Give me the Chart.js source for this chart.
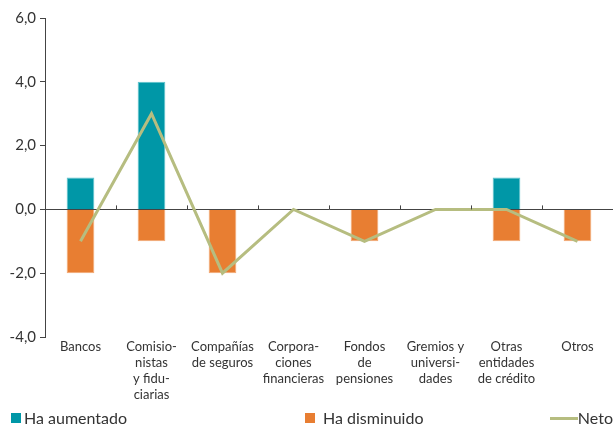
<!DOCTYPE html>
<html>
<head>
<meta charset="utf-8">
<script src="https://cdn.jsdelivr.net/npm/chart.js@4/dist/chart.umd.min.js"></script>
<style>
  html, body { margin: 0; padding: 0; background: #fff; }
  #wrap { position: relative; width: 613px; height: 426px; overflow: hidden; font-family: Lato, "Noto Sans", sans-serif; color: #333; }
  #wrap canvas { position: absolute; left: 0; top: 0; }
  .lg { position: absolute; top: 407px; font-size: 16px; line-height: 22px; white-space: nowrap; }
  .sq { position: absolute; top: 413px; width: 10px; height: 10px; }
  #neto { position: absolute; right: 0; top: 407px; font-size: 16px; line-height: 22px; white-space: nowrap; display: flex; align-items: center; }
  #neto span.ln { display: inline-block; width: 28px; height: 3px; background: #b6bd80; }
</style>
</head>
<body>
<div id="wrap">
  <canvas id="grafico" width="613" height="426"></canvas>
  <div class="sq" style="left:11px;background:#0097a7"></div>
  <div class="lg" style="left:24px">Ha aumentado</div>
  <div class="sq" style="left:305px;background:#e87e32"></div>
  <div class="lg" style="left:323px">Ha disminuido</div>
  <div id="neto"><span class="ln"></span><span>Neto</span></div>
</div>
<script>
// Categorías (etiquetas en varias líneas como en el original)
const categorias = [
    ['Bancos'],
    ['Comisio-', 'nistas', 'y fidu-', 'ciarias'],
    ['Compañías', 'de seguros'],
    ['Corpora-', 'ciones', 'financieras'],
    ['Fondos', 'de', 'pensiones'],
    ['Gremios y', 'universi-', 'dades'],
    ['Otras', 'entidades', 'de crédito'],
    ['Otros']
];
const haAumentado = [1, 4, 0, 0, 0, 0, 1, 0];
const haDisminuido = [-2, -1, -2, 0, -1, 0, -1, -1];
const neto = [-1, 3, -2, 0, -1, 0, 0, -1];
const ticksY = [-4, -2, 0, 2, 4, 6];

// marcas pequeñas sobre la línea del cero, entre categorías
const marcasCero = {
    id: 'marcasCero',
    afterDatasetsDraw(chart) {
        const x = chart.scales.x, y = chart.scales.y;
        const ctx = chart.ctx;
        const y0 = y.getPixelForValue(0);
        ctx.save();
        ctx.strokeStyle = '#444';
        ctx.lineWidth = 1;
        for (let i = 1; i < categorias.length; i++) {
            const px = Math.round((x.getPixelForValue(i - 1) + x.getPixelForValue(i)) / 2) + 0.5;
            ctx.beginPath();
            ctx.moveTo(px, y0 - 4);
            ctx.lineTo(px, y0);
            ctx.stroke();
        }
        ctx.restore();
    }
};

const ctx = document.getElementById('grafico').getContext('2d');
const grafico = new Chart(ctx, {
    type: 'bar',
    data: {
        labels: categorias,
        datasets: [
            {
                type: 'line',
                label: 'Neto',
                data: neto,
                borderColor: '#b6bd80',
                backgroundColor: '#b6bd80',
                borderWidth: 3,
                pointRadius: 0,
                tension: 0,
                stack: 'neto',
                order: 0
            },
            {
                label: 'Ha aumentado',
                data: haAumentado,
                backgroundColor: '#0097a7',
                borderColor: '#5cc3cd',
                borderWidth: 1,
                order: 1
            },
            {
                label: 'Ha disminuido',
                data: haDisminuido,
                backgroundColor: '#e87e32',
                borderColor: '#f2a873',
                borderWidth: 1,
                order: 1
            }
        ]
    },
    options: {
        responsive: false,
        animation: false,
        layout: { padding: { top: 18, right: 0, bottom: 12, left: 0 } },
        datasets: { bar: { categoryPercentage: 1, barPercentage: 0.39 } },
        plugins: {
            legend: { display: false },
            tooltip: { enabled: false }
        },
        scales: {
            x: {
                stacked: true,
                grid: { display: false, drawTicks: false },
                border: { display: false },
                ticks: {
                    color: '#333',
                    font: { family: 'Lato', size: 13, lineHeight: 1.22 },
                    padding: 2,
                    maxRotation: 0,
                    autoSkip: false
                },
                afterFit(scale) { scale.height = 77; }
            },
            y: {
                stacked: true,
                min: -4,
                max: 6,
                afterBuildTicks(scale) { scale.ticks = ticksY.map(v => ({ value: v })); },
                grid: {
                    color: c => (c.tick && c.tick.value === 0) ? '#444' : 'rgba(0,0,0,0)',
                    tickColor: '#444',
                    tickLength: 5,
                    lineWidth: 1
                },
                border: { display: true, color: '#444', width: 1 },
                ticks: {
                    color: '#333',
                    font: { family: 'Lato', size: 15 },
                    padding: 4,
                    callback: v => v.toFixed(1).replace('.', ',')
                },
                afterFit(scale) { scale.width = 45; }
            }
        }
    },
    plugins: [marcasCero]
});
</script>
</body>
</html>
